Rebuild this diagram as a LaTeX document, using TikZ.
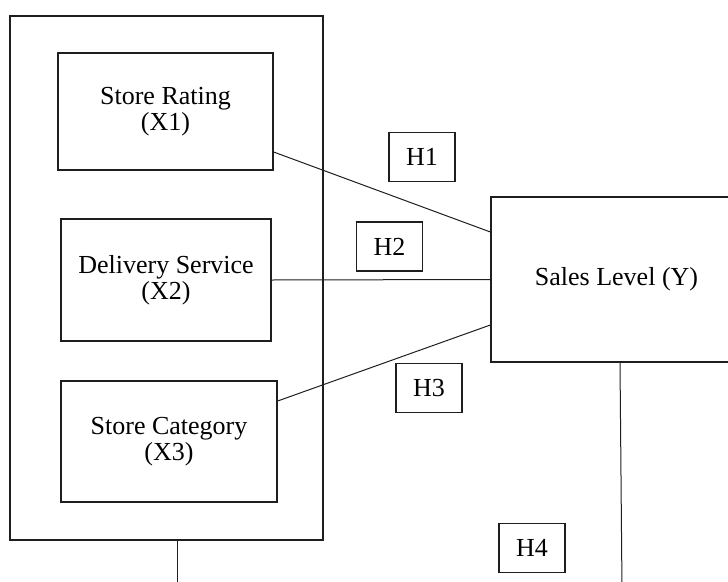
\documentclass[tikz,border=0pt]{standalone}
\usepackage{fontspec}
\setmainfont{Liberation Serif}
\usepackage{tikz}
\usetikzlibrary{positioning, calc}
\definecolor{linecolor}{RGB}{30,30,30}

\begin{document}
\begin{tikzpicture}[
    x=1pt, y=-1pt,
    group/.style={draw=linecolor, line width=1.3pt, minimum width=313pt, minimum height=524pt},
    varbox/.style={draw=linecolor, line width=1.3pt, inner sep=0pt, align=center, font=\fontsize{26}{26}\selectfont},
    hypo/.style={draw=linecolor, line width=1.1pt, inner sep=0pt, minimum width=66pt, minimum height=49pt, font=\fontsize{26}{26}\selectfont},
    link/.style={draw=linecolor, line width=1pt}
]
    \clip (0,0) rectangle (728,581);
    % Independent variables
    \node[group] (outer) at (166.5,278) {};
    \node[varbox, minimum width=215pt, minimum height=117pt] (x1) at (165.5,111.5) {Store Rating\\(X1)};
    \node[varbox, minimum width=210pt, minimum height=122pt] (x2) at (166,280) {Delivery Service\\(X2)};
    \node[varbox, minimum width=216pt, minimum height=121pt] (x3) at (169,441.5) {Store Category\\(X3)};

    % Dependent variable
    \node[varbox, minimum width=251pt, minimum height=165pt] (sales) at (616.5,279.5) {Sales Level (Y)};

    % Hypotheses
    \node[hypo] (h1) at (422,157) {H1};
    \node[hypo] (h2) at (389.5,246.5) {H2};
    \node[hypo] (h3) at (429,388) {H3};
    \node[hypo] (h4) at (532,548) {H4};

    % Paths
    \draw[link] ([yshift=-40.5pt]x1.east) -- ([yshift=47.5pt]sales.west);
    \draw[link] (x2.east) -- (sales.west);
    \draw[link] ([yshift=40.5pt]x3.east) -- ([yshift=-45.5pt]sales.west);

    \coordinate (groupend) at (177,590);
    \coordinate (salesend) at (622,590);
    \draw[link] ([xshift=10.5pt]outer.south) -- (groupend);
    \draw[link] ([xshift=3.5pt]sales.south) -- (salesend);
\end{tikzpicture}
\end{document}
